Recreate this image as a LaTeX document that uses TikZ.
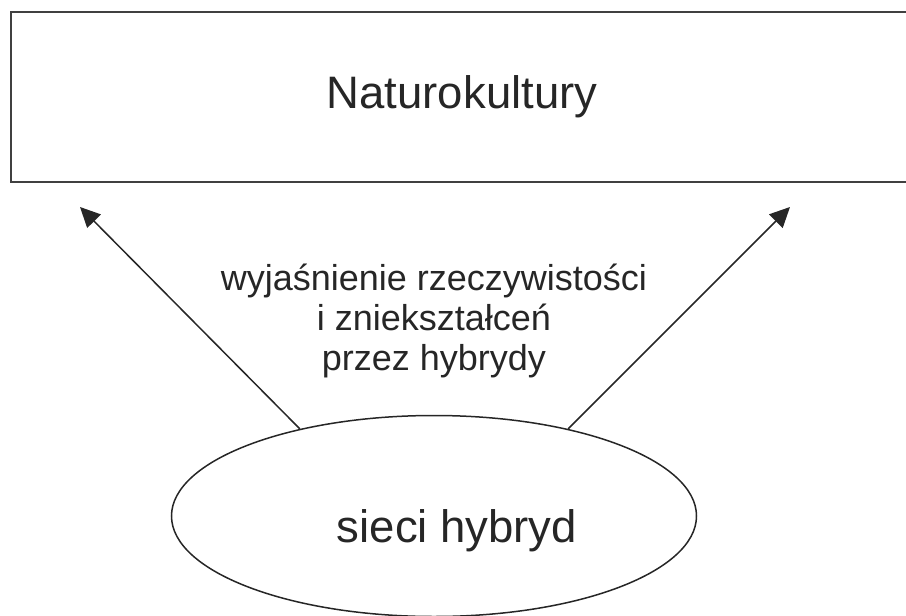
\documentclass[tikz,border=0pt]{standalone}
\usepackage{fontspec}
\setmainfont{Liberation Sans}
\usetikzlibrary{
  arrows.meta,
  shapes.geometric
}

\begin{document}
\begin{tikzpicture}[
  x=1pt, y=-1pt,
  every node/.style={text=black!85},
  box/.style={draw=black!75,line width=2pt,minimum width=902pt,minimum height=170pt,font=\fontsize{45.5}{55}\selectfont},
  blob/.style={ellipse,draw=black!85,line width=1.5pt,minimum width=525pt,minimum height=201pt,inner sep=0pt},
  blobtext/.style={anchor=base,font=\fontsize{45.5}{55}\selectfont},
  label/.style={align=center,font=\fontsize{36}{40}\selectfont},
  link/.style={draw=black!85,line width=1.5pt,-{Triangle[length=20pt,width=19pt]}},
]
\useasboundingbox (0,0) rectangle (906,616);
\node[box] (natur) at (462,97) {Naturokultury};
\node[blob] (siec) at (434,516) {};
\node[blobtext] (siecname) at (457,542) {sieci hybryd};
\node[label] (opis) at (434,321) {wyjaśnienie rzeczywistości\\i zniekształceń\\przez hybrydy};
\coordinate (tipL) at (80,207);
\coordinate (tipR) at (790,207);
\draw[link] (siec.147) -- (tipL);
\draw[link] (siec.33) -- (tipR);
\end{tikzpicture}
\end{document}
